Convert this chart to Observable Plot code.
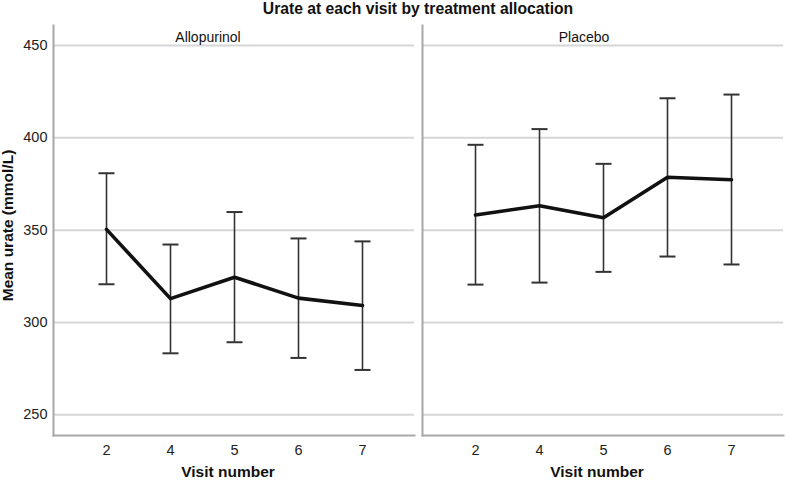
<!DOCTYPE html>
<html>
<head>
<meta charset="utf-8">
<script src="https://cdn.jsdelivr.net/npm/d3@7"></script>
<script src="https://cdn.jsdelivr.net/npm/@observablehq/plot@0.6"></script>
<style>
  html, body { margin: 0; padding: 0; background: #fff; }
  #title { height: 18px; line-height: 18px; padding-left: 53px; padding-right: 3px; text-align: center;
           font-family: "Liberation Sans", Arial, sans-serif; font-weight: bold; font-size: 15.7px; color: #111; }
</style>
</head>
<body>
<div id="title">Urate at each visit by treatment allocation</div>
<div id="chart"></div>
<script>
const groups = ["Allopurinol", "Placebo"];
const visits = ["2", "4", "5", "6", "7"];
const alloMean  = [350.4, 312.9, 324.5, 313.2, 309.2];
const alloUpper = [380.8, 342.2, 359.8, 345.5, 343.9];
const alloLower = [320.7, 283.3, 289.3, 280.8, 274.3];
const placMean  = [358.2, 363.2, 356.7, 378.6, 377.3];
const placUpper = [396.2, 404.7, 385.9, 421.4, 423.4];
const placLower = [320.5, 321.6, 327.4, 335.7, 331.4];
const yTicks = [250, 300, 350, 400, 450];
const yLabel = "Mean urate (mmol/L)";
const xLabel = "Visit number";

const rows = [];
visits.forEach((v, i) => {
  rows.push({group: groups[0], visit: v, mean: alloMean[i], upper: alloUpper[i], lower: alloLower[i]});
  rows.push({group: groups[1], visit: v, mean: placMean[i], upper: placUpper[i], lower: placLower[i]});
});

const capSymbol = {
  draw(ctx, size) {
    const r = Math.sqrt(size / Math.PI);
    ctx.moveTo(-r, 0);
    ctx.lineTo(r, 0);
  }
};

const chart = Plot.plot({
  width: 786,
  height: 465,
  marginLeft: 53,
  marginRight: 3,
  marginTop: 7,
  marginBottom: 48,
  style: {fontFamily: "Liberation Sans, Arial, sans-serif", fontSize: "14.5px", color: "#222", background: "#fff"},
  fx: {domain: groups, paddingInner: 0.022, paddingOuter: 0, axis: null},
  x: {type: "point", domain: visits, padding: 0.78, tickSize: 0, tickPadding: 9, label: null},
  y: {domain: [238.8, 460.8], ticks: yTicks, tickSize: 0, tickPadding: 6, label: null},
  marks: [
    Plot.ruleY(yTicks, {stroke: "#d6d6d6", strokeWidth: 2}),
    Plot.frame({anchor: "left", stroke: "#a8a8a8", strokeWidth: 2}),
    Plot.frame({anchor: "bottom", stroke: "#a8a8a8", strokeWidth: 2}),
    Plot.ruleX(rows, {fx: "group", x: "visit", y1: "lower", y2: "upper", stroke: "#333", strokeWidth: 1.6}),
    Plot.dot(rows, {fx: "group", x: "visit", y: "upper", symbol: capSymbol, r: 8, fill: "none", stroke: "#333", strokeWidth: 2}),
    Plot.dot(rows, {fx: "group", x: "visit", y: "lower", symbol: capSymbol, r: 8, fill: "none", stroke: "#333", strokeWidth: 2}),
    Plot.line(rows, {fx: "group", x: "visit", y: "mean", stroke: "#111", strokeWidth: 3.6}),
    Plot.text([groups[0]], {fx: d => d, text: d => d, frameAnchor: "top", lineAnchor: "middle", dy: 12, dx: -26, fontSize: 14, fill: "#111"}),
    Plot.text([groups[1]], {fx: d => d, text: d => d, frameAnchor: "top", lineAnchor: "middle", dy: 12, dx: -19, fontSize: 14, fill: "#111"}),
    Plot.text(groups, {fx: d => d, text: () => xLabel, frameAnchor: "bottom", lineAnchor: "middle", dy: 37, dx: -6, fontSize: 15.5, fontWeight: "bold", fill: "#111"}),
    Plot.text([yLabel], {fx: () => groups[0], text: d => d, frameAnchor: "left", textAnchor: "middle", lineAnchor: "middle", rotate: -90, dx: -45, dy: -5, fontSize: 15.5, fontWeight: "bold", fill: "#111"})
  ]
});
document.getElementById("chart").appendChild(chart);
</script>
</body>
</html>
